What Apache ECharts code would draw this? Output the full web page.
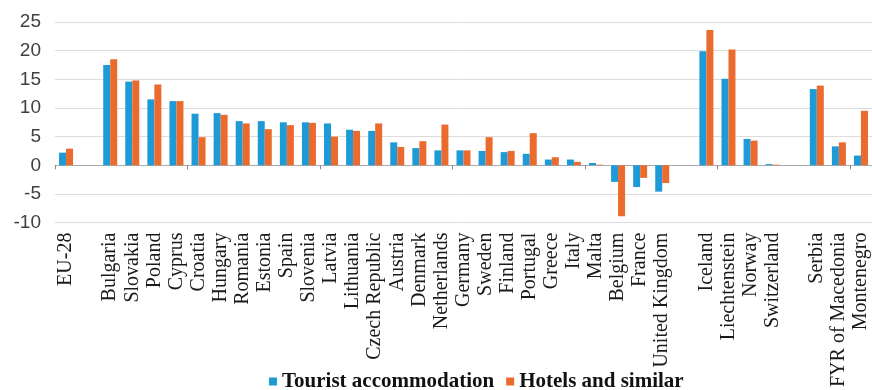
<!DOCTYPE html>
<html>
<head>
<meta charset="utf-8">
<script src="https://cdn.jsdelivr.net/npm/echarts@6/dist/echarts.min.js"></script>
<style>
  html, body { margin: 0; padding: 0; background: #fff; }
  #chart { width: 872px; height: 390px; }
</style>
</head>
<body>
<div id="chart"></div>
<script>
// categories ('' = spacer between groups)
var countries = ['EU-28', '', 'Bulgaria', 'Slovakia', 'Poland', 'Cyprus', 'Croatia', 'Hungary',
  'Romania', 'Estonia', 'Spain', 'Slovenia', 'Latvia', 'Lithuania', 'Czech Republic', 'Austria',
  'Denmark', 'Netherlands', 'Germany', 'Sweden', 'Finland', 'Portugal', 'Greece', 'Italy', 'Malta',
  'Belgium', 'France', 'United Kingdom', '', 'Iceland', 'Liechtenstein', 'Norway', 'Switzerland', '',
  'Serbia', 'FYR of Macedonia', 'Montenegro'];

var tourist = [2.2, null, 17.5, 14.6, 11.5, 11.2, 9.0, 9.1,
  7.7, 7.7, 7.5, 7.5, 7.3, 6.2, 6.0, 4.0,
  3.0, 2.6, 2.6, 2.5, 2.3, 2.0, 1.0, 1.0, 0.4,
  -2.9, -3.8, -4.6, null, 19.9, 15.1, 4.6, 0.2, null,
  13.3, 3.3, 1.7];

var hotels = [2.9, null, 18.5, 14.8, 14.1, 11.2, 4.9, 8.8,
  7.3, 6.3, 7.0, 7.4, 5.0, 6.0, 7.3, 3.2,
  4.2, 7.1, 2.6, 4.9, 2.5, 5.6, 1.4, 0.6, 0.1,
  -8.9, -2.2, -3.1, null, 23.6, 20.2, 4.3, 0.1, null,
  13.9, 4.0, 9.5];

var seriesNames = ['Tourist accommodation', 'Hotels and similar'];

var chart = echarts.init(document.getElementById('chart'));

chart.setOption({
  animation: false,
  color: ['#1e9bd7', '#eb6a2d'],
  grid: { left: 55, right: 0, top: 22, bottom: 165 },
  legend: {
    data: seriesNames,
    left: 264,
    top: 366,
    itemWidth: 8,
    itemHeight: 8,
    itemGap: 12,
    icon: 'rect',
    textStyle: { fontFamily: 'Liberation Serif', fontWeight: 'bold', fontSize: 21, color: '#111' }
  },
  xAxis: [
    {
      type: 'category',
      data: countries,
      position: 'bottom',
      axisLine: { show: false, onZero: false },
      axisTick: { show: false },
      axisLabel: {
        interval: 0,
        rotate: 90,
        margin: 10,
        fontFamily: 'Liberation Serif',
        fontSize: 20,
        color: '#1a1a1a'
      }
    },
    {
      type: 'category',
      data: countries,
      position: 'bottom',
      axisLine: { show: true, onZero: true, lineStyle: { color: '#aaaaaa' } },
      axisTick: { show: true, length: 4, lineStyle: { color: '#888' } },
      axisLabel: { show: false }
    }
  ],
  yAxis: {
    type: 'value',
    min: -10,
    max: 25,
    interval: 5,
    axisLine: { show: false },
    axisTick: { show: false },
    axisLabel: { fontFamily: 'Liberation Sans', fontSize: 19, color: '#404040', margin: 14 },
    splitLine: { lineStyle: { color: '#dcdcdc' } }
  },
  series: [
    {
      name: seriesNames[0],
      type: 'bar',
      data: tourist,
      barWidth: 7,
      barGap: '0%'
    },
    {
      name: seriesNames[1],
      type: 'bar',
      data: hotels,
      barWidth: 7,
      barGap: '0%'
    }
  ]
});
</script>
</body>
</html>
